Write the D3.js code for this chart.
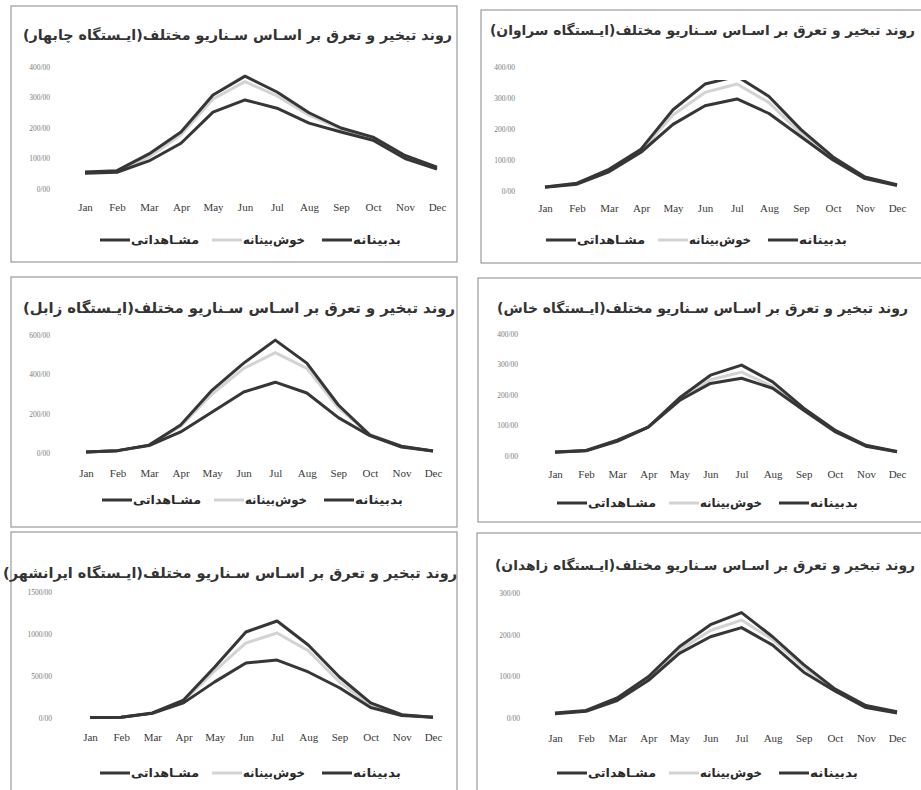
<!DOCTYPE html>
<html>
<head>
<meta charset="utf-8">
<script src="https://cdn.jsdelivr.net/npm/d3@7"></script>
<style>
  body { margin: 0; background: #fff; }
</style>
</head>
<body>
<script>
const months = ['Jan', 'Feb', 'Mar', 'Apr', 'May', 'Jun', 'Jul', 'Aug', 'Sep', 'Oct', 'Nov', 'Dec'];
const stations = ['چابهار', 'سراوان', 'زابل', 'خاش', 'ایرانشهر', 'زاهدان'];
const titleText = 'روند تبخیر و تعرق بر اسـاس سـناریو مختلف(ایـستگاه ';
const legendNames = ['مشـاهداتی', 'خوش‌بینانه', 'بدبینانه'];

// one row per station, same order as stations
const observed = [
    [52, 55, 92, 150, 252, 292, 265, 216, 187, 160, 100, 65],
    [12, 22, 62, 125, 215, 275, 297, 250, 175, 100, 40, 18],
    [5, 12, 38, 107, 208, 310, 360, 305, 180, 88, 30, 10],
    [12, 17, 48, 95, 182, 238, 255, 222, 150, 80, 32, 14],
    [5, 10, 55, 180, 430, 655, 690, 548, 360, 125, 30, 10],
    [10, 16, 42, 90, 155, 195, 217, 175, 110, 65, 25, 12]
];
const optimistic = [
    [55, 57, 105, 178, 295, 352, 305, 242, 196, 166, 104, 68],
    [13, 24, 68, 130, 245, 318, 345, 285, 185, 105, 43, 19],
    [5, 12, 40, 135, 300, 430, 510, 430, 230, 95, 33, 10],
    [13, 18, 50, 95, 180, 250, 275, 228, 150, 82, 33, 14],
    [5, 10, 58, 200, 560, 893, 1012, 800, 430, 150, 35, 10],
    [11, 17, 45, 95, 163, 210, 235, 188, 122, 68, 28, 14]
];
const pessimistic = [
    [56, 60, 115, 187, 308, 370, 318, 250, 200, 170, 110, 72],
    [13, 25, 70, 135, 262, 345, 370, 305, 198, 110, 45, 20],
    [5, 12, 40, 142, 320, 457, 574, 457, 244, 91, 35, 10],
    [13, 18, 52, 95, 190, 265, 298, 243, 157, 85, 35, 15],
    [5, 10, 60, 214, 607, 1024, 1155, 869, 488, 179, 40, 10],
    [12, 18, 48, 99, 171, 224, 253, 195, 128, 70, 30, 15]
];
const yTicks = [
    [0, 100, 200, 300, 400],
    [0, 100, 200, 300, 400],
    [0, 200, 400, 600],
    [0, 100, 200, 300, 400],
    [0, 500, 1000, 1500],
    [0, 100, 200, 300]
];

// where each small chart sits on the page
const layout = [
    { box: [11, 6, 446, 256], title: [23, 452, 40], plot: [85, 437, 189, 67], clipTop: 6, yLab: 50, xLab: 207, legend: [100, 240] },
    { box: [481, 10, 450, 253], title: [490, 915, 35], plot: [545, 897, 191, 67], clipTop: 80, yLab: 515, xLab: 208, legend: [546, 240] },
    { box: [11, 277, 446, 250], title: [23, 455, 313], plot: [86, 433, 453, 335], clipTop: 277, yLab: 50, xLab: 473, legend: [102, 500] },
    { box: [478, 278, 450, 244], title: [497, 908, 313], plot: [555, 897, 456, 334], clipTop: 278, yLab: 518, xLab: 474, legend: [557, 503] },
    { box: [11, 532, 446, 270], title: [3, 457, 578], plot: [90, 433, 718, 592], clipTop: 532, yLab: 52, xLab: 737, legend: [100, 773] },
    { box: [477, 533, 450, 270], title: [495, 915, 570], plot: [555, 897, 718, 593], clipTop: 533, yLab: 520, xLab: 738, legend: [557, 773] }
];
const legendOffsets = [0, 112, 222];
const legendWidths = [68, 62, 48];

const darkColor = '#363636';
const lightColor = '#d3d3d3';

const svg = d3.select('body')
    .append('svg')
    .attr('width', 921)
    .attr('height', 790);

svg.append('rect')
    .attr('width', 921)
    .attr('height', 790)
    .attr('fill', '#fff');

const defs = svg.append('defs');

stations.forEach((name, i) => {
    const L = layout[i];
    const g = svg.append('g').attr('class', 'panel');

    // frame
    g.append('rect')
        .attr('x', L.box[0])
        .attr('y', L.box[1])
        .attr('width', L.box[2])
        .attr('height', L.box[3])
        .attr('fill', '#fff')
        .attr('stroke', '#9a9a9a')
        .attr('stroke-width', 1.2);

    // title: shrink the font until its natural width fits, then stretch to the exact span
    const titleW = L.title[1] - L.title[0];
    const title = g.append('text')
        .attr('x', (L.title[0] + L.title[1]) / 2)
        .attr('y', L.title[2])
        .attr('text-anchor', 'middle')
        .attr('direction', 'rtl')
        .style('font-family', '"DejaVu Sans", sans-serif')
        .style('font-size', '15px')
        .style('font-weight', 'bold')
        .attr('fill', '#333')
        .text(titleText + name + ')');
    const natural = title.node().getComputedTextLength();
    if (natural > titleW) {
        title.style('font-size', (15 * titleW / natural - 0.1) + 'px');
    }
    title.attr('textLength', titleW).attr('lengthAdjust', 'spacingAndGlyphs');

    const x = d3.scalePoint()
        .domain(months)
        .range([L.plot[0], L.plot[1]]);
    const y = d3.scaleLinear()
        .domain([0, d3.max(yTicks[i])])
        .range([L.plot[2], L.plot[3]]);

    // y axis labels only
    const yAxis = g.append('g')
        .attr('transform', `translate(${L.yLab},0)`)
        .call(d3.axisLeft(y).tickValues(yTicks[i]).tickFormat(d => d + '/00').tickSize(0).tickPadding(0));
    yAxis.select('.domain').remove();
    yAxis.selectAll('text')
        .style('font-family', '"Liberation Serif", serif')
        .style('font-size', '7.5px')
        .attr('fill', '#7a7a7a');

    // x axis labels only
    const xAxis = g.append('g')
        .attr('transform', `translate(0,${L.xLab})`)
        .call(d3.axisBottom(x).tickSize(0).tickPadding(0));
    xAxis.select('.domain').remove();
    xAxis.selectAll('text')
        .attr('y', 0)
        .attr('dy', '0.35em')
        .style('font-family', '"Liberation Serif", serif')
        .style('font-size', '11px')
        .attr('fill', '#3a3a3a');

    // plot-area clip
    defs.append('clipPath')
        .attr('id', 'clip' + i)
        .append('rect')
        .attr('x', L.box[0])
        .attr('y', L.clipTop)
        .attr('width', L.box[2])
        .attr('height', 800);

    const line = d3.line()
        .x((d, j) => x(months[j]))
        .y(d => y(d));

    const series = [
        { values: optimistic[i], color: lightColor },
        { values: observed[i], color: darkColor },
        { values: pessimistic[i], color: darkColor }
    ];

    g.append('g')
        .attr('clip-path', `url(#clip${i})`)
        .selectAll('path')
        .data(series)
        .enter()
        .append('path')
        .attr('d', d => line(d.values))
        .attr('fill', 'none')
        .attr('stroke', d => d.color)
        .attr('stroke-width', 3)
        .attr('stroke-linejoin', 'round');

    // legend: line on the left of each name
    const legendColors = [darkColor, lightColor, darkColor];
    const items = g.append('g')
        .selectAll('g')
        .data(legendNames)
        .enter()
        .append('g')
        .attr('transform', (d, k) => `translate(${L.legend[0] + legendOffsets[k]},${L.legend[1]})`);

    items.append('line')
        .attr('x1', 0)
        .attr('x2', 30)
        .attr('y1', 0)
        .attr('y2', 0)
        .attr('stroke', (d, k) => legendColors[k])
        .attr('stroke-width', 3);

    items.append('text')
        .attr('x', 31)
        .attr('y', 4)
        .attr('textLength', (d, k) => legendWidths[k])
        .attr('lengthAdjust', 'spacingAndGlyphs')
        .style('font-family', '"DejaVu Sans", sans-serif')
        .style('font-size', '12px')
        .style('font-weight', 'bold')
        .attr('fill', '#2a2a2a')
        .text(d => d);
});
</script>
</body>
</html>
